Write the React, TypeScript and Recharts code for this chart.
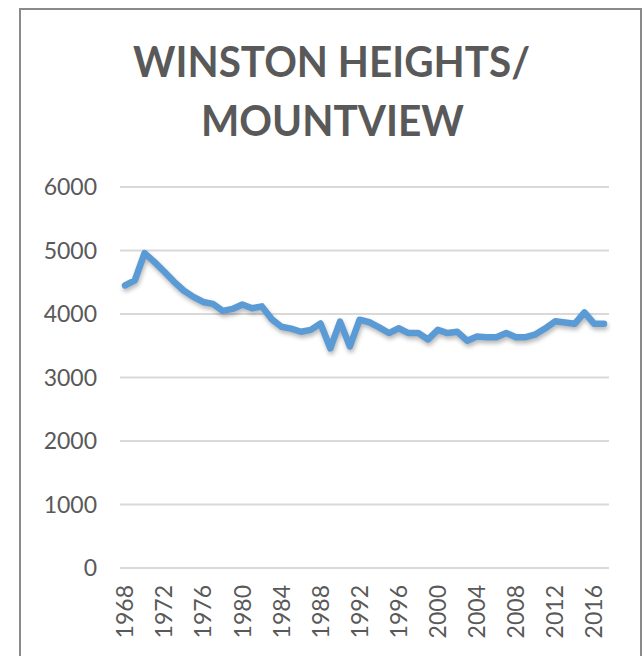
import { LineChart, Line, XAxis, YAxis, CartesianGrid } from 'recharts';

// population by year
const years = [
  '1968', '1969', '1970', '1971', '1972', '1973', '1974', '1975', '1976', '1977',
  '1978', '1979', '1980', '1981', '1982', '1983', '1984', '1985', '1986', '1987',
  '1988', '1989', '1990', '1991', '1992', '1993', '1994', '1995', '1996', '1997',
  '1998', '1999', '2000', '2001', '2002', '2003', '2004', '2005', '2006', '2007',
  '2008', '2009', '2010', '2011', '2012', '2013', '2014', '2015', '2016', '2017',
];

const population = [
  4450, 4530, 4960, 4820, 4670, 4510, 4370, 4270, 4190, 4160,
  4050, 4080, 4150, 4090, 4120, 3920, 3800, 3770, 3720, 3750,
  3850, 3460, 3880, 3490, 3910, 3870, 3790, 3700, 3775, 3700,
  3700, 3600, 3750, 3700, 3720, 3580, 3645, 3635, 3635, 3700,
  3635, 3635, 3680, 3775, 3885, 3865, 3845, 4025, 3845, 3845,
];

const yTicks = [0, 1000, 2000, 3000, 4000, 5000, 6000];

const titleLines = ['WINSTON HEIGHTS/', 'MOUNTVIEW'];

const chartData = years.map((year, i) => ({ year, value: population[i] }));

const FONT = 'Lato, "Open Sans", sans-serif';
const TEXT = '#595959';

const YearTick = ({ x, y, payload }: any) => (
  <text
    x={x}
    y={y}
    dy="0.36em"
    transform={`rotate(-90, ${x}, ${y})`}
    textAnchor="end"
    fill={TEXT}
    fontSize={23}
    fontFamily={FONT}
  >
    {payload.value}
  </text>
);

export default function App() {
  return (
    <div style={{ position: 'relative', width: 644, height: 656, overflow: 'hidden', background: '#fff' }}>
      <style>{'body { margin: 0; } .recharts-line-curve { filter: drop-shadow(1px 3px 2px rgba(0,0,0,0.28)); }'}</style>

      {/* chart frame, bottom edge runs off the page */}
      <div
        style={{
          position: 'absolute',
          left: 19,
          top: 8,
          width: 619,
          height: 700,
          border: '2px solid #8a8a8a',
        }}
      />

      <svg width={644} height={160} style={{ position: 'absolute', left: 0, top: 0 }}>
        <text
          x={331.5}
          y={77}
          textAnchor="middle"
          textLength={397}
          lengthAdjust="spacingAndGlyphs"
          fontFamily={FONT}
          fontWeight={700}
          fontSize={42}
          fill={TEXT}
        >
          {titleLines[0]}
        </text>
        <text
          x={332.5}
          y={136}
          textAnchor="middle"
          textLength={263}
          lengthAdjust="spacingAndGlyphs"
          fontFamily={FONT}
          fontWeight={700}
          fontSize={42}
          fill={TEXT}
        >
          {titleLines[1]}
        </text>
      </svg>

      <div style={{ position: 'absolute', left: 0, top: 0 }}>
        <LineChart width={644} height={656} data={chartData} margin={{ top: 187, right: 35, left: 0, bottom: 8 }}>
          <CartesianGrid vertical={false} stroke="#d9d9d9" strokeWidth={2} />
          <XAxis
            dataKey="year"
            interval={3}
            height={80}
            padding={{ left: 5, right: 5 }}
            axisLine={{ stroke: '#d9d9d9', strokeWidth: 2 }}
            tickLine={false}
            tickMargin={11}
            tick={<YearTick />}
          />
          <YAxis
            domain={[0, 6000]}
            ticks={yTicks}
            width={120}
            axisLine={false}
            tickLine={false}
            tickMargin={17}
            tick={{ fill: TEXT, fontSize: 23, fontFamily: FONT }}
          />
          <Line
            type="linear"
            dataKey="value"
            stroke="#5b9bd5"
            strokeWidth={6.5}
            strokeLinejoin="round"
            strokeLinecap="round"
            dot={false}
            isAnimationActive={false}
          />
        </LineChart>
      </div>
    </div>
  );
}
